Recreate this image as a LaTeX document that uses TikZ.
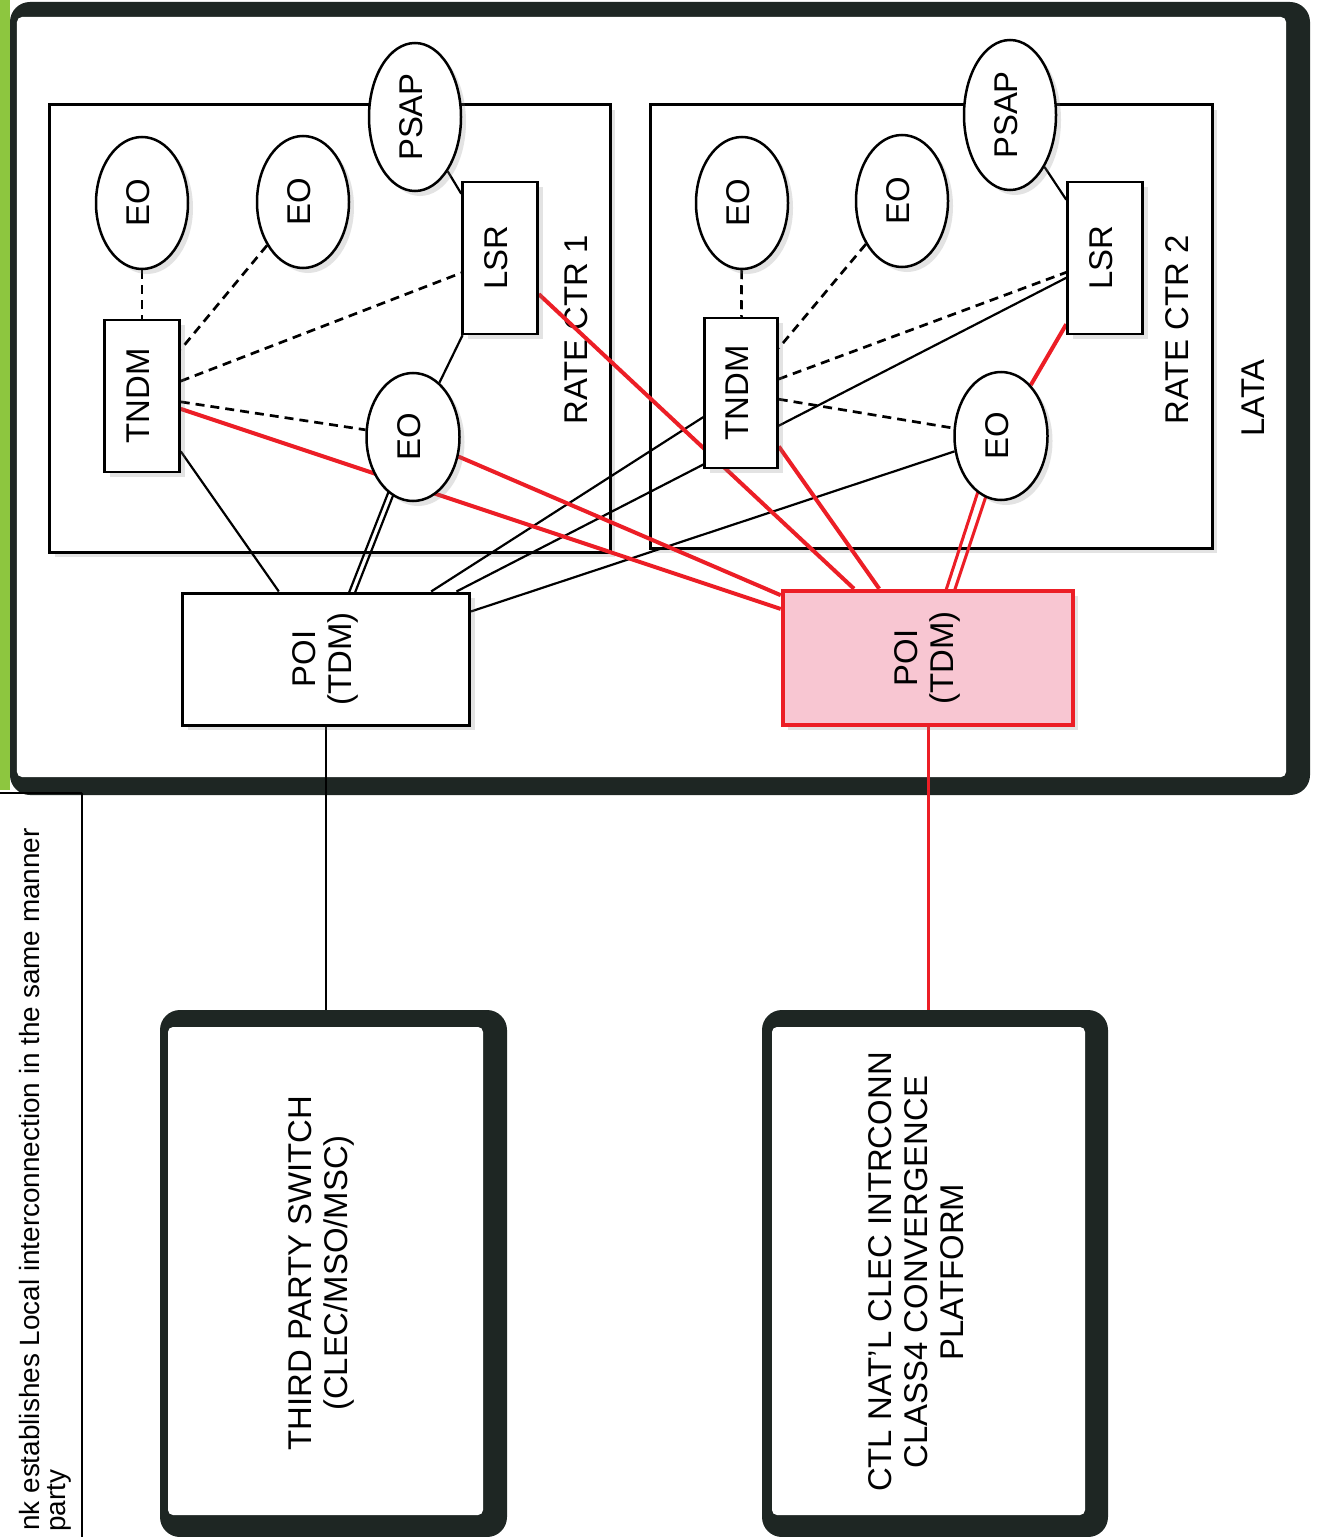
\documentclass[tikz,border=0pt]{standalone}
\usepackage{fontspec}
\setmainfont{Liberation Sans}
\usetikzlibrary{shapes.geometric,backgrounds,shadows,calc}
\definecolor{darkb}{RGB}{30,38,35}
\definecolor{redl}{RGB}{236,30,38}
\definecolor{pinkf}{RGB}{248,198,210}
\definecolor{greenb}{RGB}{141,198,63}
\newcommand{\rt}[1]{\rotatebox{90}{\begin{tabular}{@{}c@{}}#1\end{tabular}}}
\begin{document}
\begin{tikzpicture}[x=1bp,y=-1bp,
  every node/.style={font=\fontsize{33}{36}\selectfont},
  shad/.style={drop shadow={opacity=0.22,shadow xshift=5bp,shadow yshift=-5bp}},
  eonode/.style={ellipse,draw=black,line width=2.5bp,fill=white,minimum width=92bp,minimum height=132bp,inner sep=0pt,shad},
  sqnode/.style={rectangle,draw=black,line width=2.5bp,fill=white,minimum width=75bp,minimum height=152bp,inner sep=0pt,shad},
  poinode/.style={rectangle,draw=black,line width=3bp,fill=white,minimum width=287bp,minimum height=132bp,inner sep=0pt,shad},
  poired/.style={poinode,draw=redl,fill=pinkf,line width=4.5bp},
  ratebox/.style={rectangle,draw=black,line width=3bp,fill=white,inner sep=0pt,shad},
  outerdark/.style={rectangle,fill=darkb,rounded corners=20bp,inner sep=0pt},
  innerwhite/.style={rectangle,fill=white,rounded corners=5bp,inner sep=0pt},
  lbl/.style={inner sep=0pt},
  blk/.style={draw=black,line width=2.2bp},
  dsh/.style={draw=black,line width=2.7bp,dash pattern=on 9bp off 6bp},
  rd/.style={draw=redl,line width=4bp},
  rdthin/.style={draw=redl,line width=3bp}
]
\useasboundingbox (0,0) rectangle (1317,1537);

% green strip and side table
\fill[greenb] (0,0) rectangle (10,790);
\draw[black,line width=1.5bp] (0,793) -- (82,793);
\coordinate (tabtop) at (82,793);
\coordinate (tabbot) at (82,1537);
\draw[black,line width=2bp] (tabtop) -- (tabbot);
\node[lbl,anchor=north east,font=\fontsize{28}{31}\selectfont] (note1) at (40,828)
  {\rotatebox{90}{nk establishes Local interconnection in the same manner}};
\node[lbl,anchor=south east,font=\fontsize{28}{31}\selectfont] (note2) at (71,1532)
  {\rotatebox{90}{party}};

% rate centre 1 nodes
\node[eonode] (eo1a) at (142,203) {\rt{EO}};
\node[eonode] (eo1b) at (303,202) {\rt{EO}};
\node[eonode,minimum height=148bp] (psap1) at (415,117) {\rt{PSAP}};
\node[sqnode] (lsr1) at (500,258) {\rt{LSR}};
\node[sqnode] (tndm1) at (142,396) {\rt{TNDM}};
\node[eonode,minimum width=93bp,minimum height=128bp] (eo1c) at (413,437) {\rt{EO}};

% rate centre 2 nodes
\node[eonode] (eo2a) at (742,203) {\rt{EO}};
\node[eonode] (eo2b) at (902,201) {\rt{EO}};
\node[eonode,minimum height=150bp] (psap2) at (1010,115) {\rt{PSAP}};
\node[sqnode] (lsr2) at (1105,258) {\rt{LSR}};
\node[sqnode,minimum width=73bp,minimum height=150bp] (tndm2) at (741,393) {\rt{TNDM}};
\node[eonode,minimum width=93bp,minimum height=128bp] (eo2c) at (1001,436) {\rt{EO}};

% POIs
\node[poinode] (poi1) at (326,659) {\rt{POI\\(TDM)}};
\node[poired,minimum width=290bp,minimum height=134bp] (poi2) at (928,658) {\rt{POI\\(TDM)}};

% lower boxes
\node[outerdark,minimum width=347bp,minimum height=527bp] (third) at (333.5,1273.5) {};
\node[innerwhite,minimum width=315bp,minimum height=488bp] (thirdin) at (325.5,1271) {};
\node[lbl] (thirdtxt) at (322,1273) {\rt{THIRD PARTY SWITCH\\(CLEC/MSO/MSC)}};
\node[outerdark,minimum width=346bp,minimum height=527bp] (ctl) at (935,1273.5) {};
\node[innerwhite,minimum width=313bp,minimum height=488bp] (ctlin) at (928.5,1271) {};
\node[lbl] (ctltxt) at (920,1272) {\rt{CTL NAT'L CLEC INTRCONN\\CLASS4 CONVERGENCE\\PLATFORM}};

\begin{pgfonlayer}{background}
  % LATA frame
  \node[outerdark,minimum width=1300bp,minimum height=793bp] (lata) at (660,398.5) {};
  \node[innerwhite,minimum width=1269bp,minimum height=760bp] (latain) at (651.5,397) {};
  \node[lbl] (latalbl) at (1257,398) {\rt{LATA}};
  % rate centre boxes
  \node[ratebox,minimum width=560bp,minimum height=447bp] (rc1) at (330,328.5) {};
  \node[ratebox,minimum width=562bp,minimum height=443bp] (rc2) at (931,326.5) {};
  \node[lbl] (rc1lbl) at (580,330) {\rt{RATE CTR 1}};
  \node[lbl] (rc2lbl) at (1181,330) {\rt{RATE CTR 2}};

  % dashed links
  \draw[dsh] (eo1a) -- (tndm1);
  \draw[dsh] (eo1b) -- (tndm1);
  \draw[dsh] (tndm1) -- (lsr1);
  \draw[dsh] (tndm1) -- (eo1c);
  \draw[dsh] (eo2a) -- (tndm2);
  \draw[dsh] (eo2b) -- (tndm2);
  \draw[dsh] (tndm2) -- (lsr2);
  \draw[dsh] (tndm2) -- (eo2c);

  % black links
  \draw[blk] (psap1) -- (lsr1);
  \draw[blk] (lsr1) -- (eo1c);
  \draw[blk] (psap2) -- (lsr2);
  \draw[blk] (tndm1) -- (poi1);
  \draw[blk] ($(eo1c)+(-3,0)$) -- ($(poi1)+(-3,0)$);
  \draw[blk] ($(eo1c)+(3,0)$) -- ($(poi1)+(3,0)$);
  \draw[blk] (tndm2) -- (poi1);
  \draw[blk] (lsr2) -- (poi1);
  \draw[blk] (eo2c) -- (poi1);
  \draw[blk] (poi1.south) -- (poi1.south |- third.north);

  % red links
  \draw[rd] (tndm1) -- (poi2);
  \draw[rd] (eo1c) -- (poi2);
  \draw[rd] (lsr1) -- (poi2);
  \draw[rd] (tndm2) -- (poi2);
  \draw[rdthin] ($(eo2c)+(-5,0)$) -- ($(poi2)+(-4,0)$);
  \draw[rdthin] ($(eo2c)+(5,0)$) -- ($(poi2)+(4,0)$);
  \draw[rd] (lsr2) -- (eo2c);
  \draw[rdthin] (poi2.south) -- ($(poi2.south |- ctl.north)+(0,10)$);
\end{pgfonlayer}
\end{tikzpicture}
\end{document}
